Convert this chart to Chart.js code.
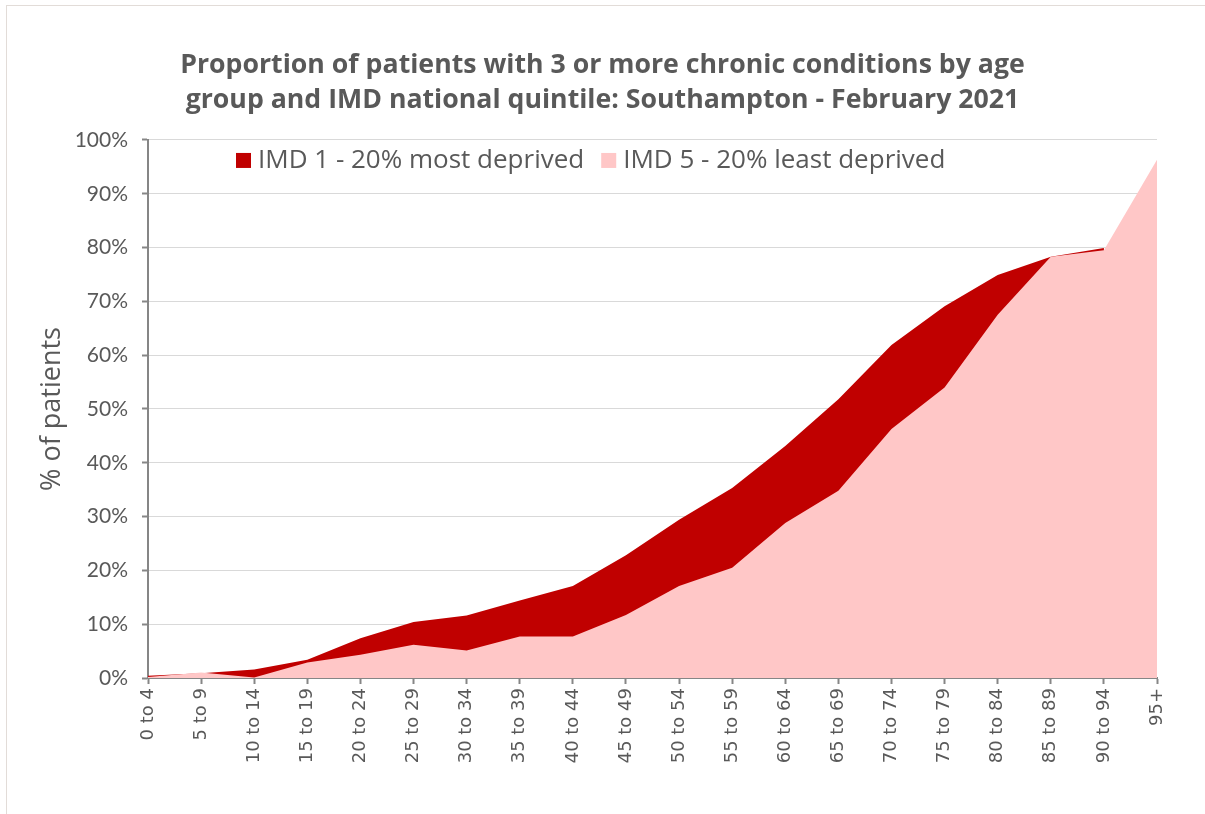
<!DOCTYPE html>
<html>
<head>
<meta charset="utf-8">
<script src="https://cdn.jsdelivr.net/npm/chart.js@4/dist/chart.umd.min.js"></script>
<style>
  html, body { margin: 0; padding: 0; background: #fff; }
  #wrap { position: relative; width: 1205px; height: 814px; }
  #frame { position: absolute; left: 6px; top: 5px; width: 1205px; height: 814px;
           border-top: 1px solid #e2dcd8; border-left: 1px solid #e2dcd8; pointer-events: none; }
  canvas { display: block; }
</style>
</head>
<body>
<div id="wrap">
  <canvas id="c" width="1205" height="814"></canvas>
  <div id="frame"></div>
</div>
<script>
const ageGroups = ["0 to 4","5 to 9","10 to 14","15 to 19","20 to 24","25 to 29","30 to 34","35 to 39","40 to 44","45 to 49","50 to 54","55 to 59","60 to 64","65 to 69","70 to 74","75 to 79","80 to 84","85 to 89","90 to 94","95+"];
const imd1MostDeprived = [0.4, 0.9, 1.6, 3.4, 7.4, 10.4, 11.6, 14.4, 17.1, 22.8, 29.4, 35.3, 43.1, 51.8, 61.9, 69.1, 74.9, 78.3, 79.9, null];
const imd5LeastDeprived = [0.2, 1.0, 0.1, 2.9, 4.3, 6.2, 5.1, 7.7, 7.7, 11.7, 17.1, 20.5, 28.8, 34.8, 46.3, 54.0, 67.5, 78.3, 79.5, 96.3];
const yTickValues = [0,10,20,30,40,50,60,70,80,90,100];
const seriesLabels = ["IMD 1 - 20% most deprived", "IMD 5 - 20% least deprived"];
const titleLines = ["Proportion of patients with 3 or more chronic conditions by age", "group and IMD national quintile: Southampton - February 2021"];

const textColor = '#595959';
const axisColor = '#868686';

const insideLegend = {
  id: 'insideLegend',
  afterDraw(chart) {
    const ctx = chart.ctx;
    const area = chart.chartArea;
    ctx.save();
    ctx.font = '26px "Open Sans"';
    ctx.textBaseline = 'middle';
    ctx.textAlign = 'left';
    let x = area.left + 88;
    const y = area.top + 21;
    chart.data.datasets.forEach(ds => {
      ctx.fillStyle = ds.backgroundColor;
      ctx.fillRect(x, y - 8, 15, 15);
      x += 22;
      ctx.fillStyle = textColor;
      ctx.fillText(ds.label, x, y);
      x += ctx.measureText(ds.label).width + 17;
    });
    ctx.restore();
  }
};

new Chart(document.getElementById('c'), {
  type: 'line',
  data: {
    labels: ageGroups,
    datasets: [
      { label: seriesLabels[0], data: imd1MostDeprived, backgroundColor: '#c00000', borderColor: '#c00000',
        borderWidth: 0, pointRadius: 0, fill: 'origin', order: 2, tension: 0 },
      { label: seriesLabels[1], data: imd5LeastDeprived, backgroundColor: '#ffc7c7', borderColor: '#ffc7c7',
        borderWidth: 0, pointRadius: 0, fill: 'origin', order: 1, tension: 0 }
    ]
  },
  options: {
    responsive: false,
    animation: false,
    layout: { padding: 0 },
    plugins: {
      legend: { display: false },
      tooltip: { enabled: false },
      title: {
        display: true,
        text: titleLines,
        color: textColor,
        font: { family: '"Open Sans"', size: 26.7, weight: 'bold', lineHeight: 1.31 },
        padding: { top: 48, bottom: 22 }
      }
    },
    scales: {
      x: {
        offset: false,
        grid: { display: true, drawOnChartArea: false, drawTicks: true, tickLength: 6, tickColor: axisColor, tickWidth: 2 },
        border: { display: true, color: axisColor, width: 2 },
        ticks: { autoSkip: false, maxRotation: 90, minRotation: 90, color: textColor, padding: 4,
                 font: { family: 'DejaVu Sans', size: 18 } },
        afterFit(scale) { scale.height = 136; }
      },
      y: {
        min: 0, max: 100,
        afterBuildTicks(scale) { scale.ticks = yTickValues.map(v => ({ value: v })); },
        grid: { color: '#d9d9d9', lineWidth: 1, tickLength: 6, tickColor: axisColor, tickWidth: 2 },
        border: { display: true, color: axisColor, width: 2 },
        ticks: { color: textColor, padding: 14, font: { family: 'Lato', size: 21 },
                 callback: v => v + '%' },
        title: { display: true, text: '% of patients', color: textColor,
                 font: { family: '"Open Sans"', size: 27 }, padding: { top: 36, bottom: 0 } },
        afterFit(scale) { scale.width = 148; }
      },
      rightSpace: {
        type: 'linear', position: 'right', display: true, min: 0, max: 100,
        grid: { display: false }, border: { display: false }, ticks: { display: false },
        afterFit(scale) { scale.width = 48; }
      }
    }
  },
  plugins: [insideLegend]
});
</script>
</body>
</html>
